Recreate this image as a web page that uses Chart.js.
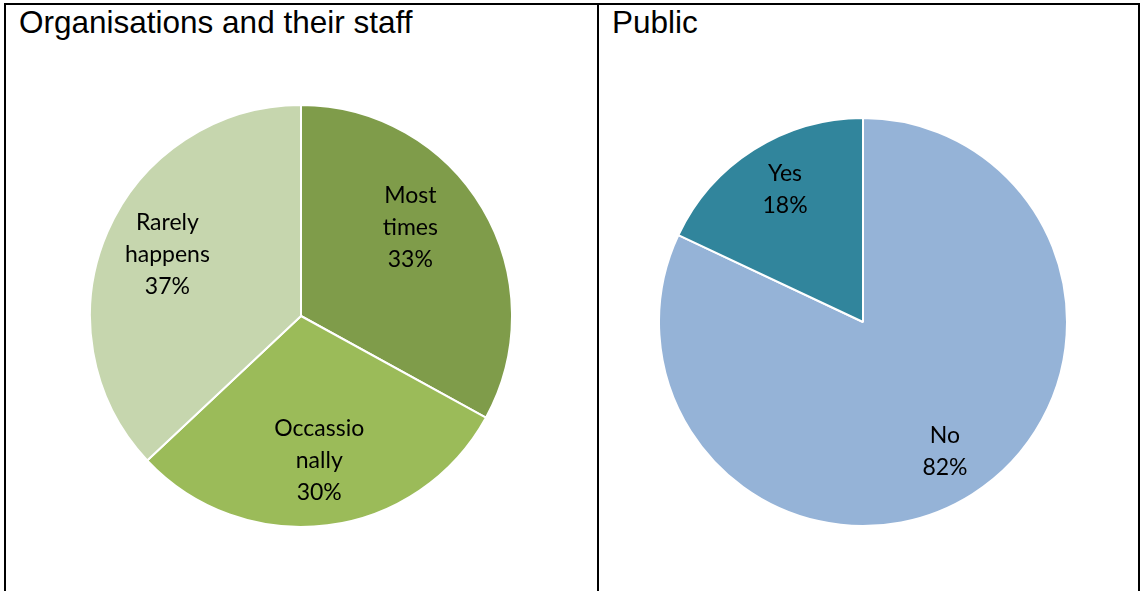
<!DOCTYPE html>
<html lang="en">
<head>
    <meta charset="UTF-8">
    <title>Organisations and Public</title>
    <script src="https://cdn.jsdelivr.net/npm/chart.js"></script>
    <style>
        body { margin: 0; background: #fff; width: 1141px; height: 591px; overflow: hidden; position: relative; }
        .frame { position: absolute; left: 4px; top: 3px; width: 1132px; height: 600px; border: 2px solid #000; }
        .divider { position: absolute; left: 597px; top: 3px; width: 2px; height: 600px; background: #000; }
        .title { position: absolute; font-family: "Liberation Sans", Arial, sans-serif; font-size: 31.5px; color: #000; line-height: 1; }
        .pie { position: absolute; }
    </style>
</head>
<body>
    <div class="frame"></div>
    <div class="divider"></div>
    <div class="title" style="left:19px; top:7px;">Organisations and their staff</div>
    <div class="title" style="left:612px; top:7px;">Public</div>

    <div class="pie" style="left:89px; top:104px; width:424px; height:424px;"><canvas id="orgChart"></canvas></div>
    <div class="pie" style="left:658px; top:117px; width:410px; height:410px;"><canvas id="publicChart"></canvas></div>

    <script>
        // Organisations and their staff
        const orgCategories = ['Most times', 'Occassionally', 'Rarely happens'];
        const orgLines = [['Most', 'times'], ['Occassio', 'nally'], ['Rarely', 'happens']];
        const orgValues = [33, 30, 37];
        const orgColors = ['#7f9c4a', '#9bbb59', '#c6d6ae'];

        // Public
        const publicCategories = ['No', 'Yes'];
        const publicLines = [['No'], ['Yes']];
        const publicValues = [82, 18];
        const publicColors = ['#95b3d7', '#31859c'];

        // draws the wrapped category + percent inside each slice
        const sliceLabels = {
            id: 'sliceLabels',
            afterDatasetsDraw(chart, args, opts) {
                const ctx = chart.ctx;
                const meta = chart.getDatasetMeta(0);
                const values = chart.data.datasets[0].data;
                const total = values.reduce((a, b) => a + b, 0);
                ctx.save();
                ctx.font = '23px Lato, "Open Sans", sans-serif';
                ctx.fillStyle = '#000';
                ctx.textAlign = 'center';
                ctx.textBaseline = 'middle';
                meta.data.forEach((arc, i) => {
                    const p = arc.getProps(['x', 'y', 'startAngle', 'endAngle', 'outerRadius'], true);
                    const mid = (p.startAngle + p.endAngle) / 2;
                    const r = p.outerRadius * opts.fraction;
                    const nudge = (opts.nudge && opts.nudge[i]) || [0, 0];
                    const cx = p.x + Math.cos(mid) * r + nudge[0];
                    const cy = p.y + Math.sin(mid) * r + nudge[1];
                    const lines = opts.lines[i].concat([Math.round(values[i] / total * 100) + '%']);
                    const lh = 32;
                    lines.forEach((t, k) => {
                        ctx.fillText(t, cx, cy + (k - (lines.length - 1) / 2) * lh);
                    });
                });
                ctx.restore();
            }
        };

        function makePie(id, categories, values, colors, lines, fraction, nudge) {
            return new Chart(document.getElementById(id), {
                type: 'pie',
                data: {
                    labels: categories,
                    datasets: [{
                        data: values,
                        backgroundColor: colors,
                        borderColor: '#fff',
                        borderWidth: 2
                    }]
                },
                options: {
                    responsive: true,
                    maintainAspectRatio: false,
                    animation: false,
                    events: [],
                    layout: { padding: 0 },
                    plugins: {
                        legend: { display: false },
                        tooltip: { enabled: false },
                        sliceLabels: { lines: lines, fraction: fraction, nudge: nudge }
                    }
                },
                plugins: [sliceLabels]
            });
        }

        makePie('orgChart', orgCategories, orgValues, orgColors, orgLines, 0.69, [[-16, -14], [0, 0], [0, -4]]);
        makePie('publicChart', publicCategories, publicValues, publicColors, publicLines, 0.75, [[0, 0], [4, -3]]);
    </script>
</body>
</html>
